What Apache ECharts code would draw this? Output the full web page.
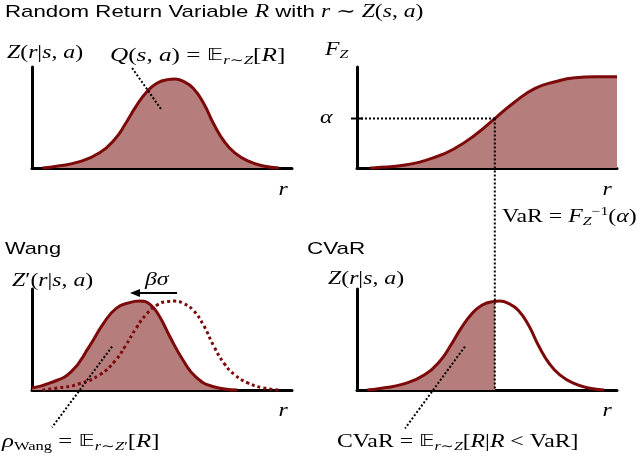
<!DOCTYPE html>
<html>
<head>
<meta charset="utf-8">
<script src="https://cdn.jsdelivr.net/npm/echarts@6/dist/echarts.min.js"></script>
<style>
  html, body { margin: 0; padding: 0; background: #fff; }
  #main { width: 640px; height: 459px; }
</style>
</head>
<body>
<div id="main"></div>
<script>
// return distribution Z(r|s,a) (top-left, dotted in Wang, bottom-right)
var zR = [0.4, 1.0, 1.8, 2.6, 3.2, 3.6, 4.0, 4.4, 4.8, 5.2, 5.5, 5.8, 6.2, 6.6, 7.0, 7.4, 7.8, 8.3, 8.9, 9.5];
var zP = [0, 0.02, 0.06, 0.15, 0.29, 0.44, 0.61, 0.75, 0.84, 0.875, 0.88, 0.86, 0.79, 0.64, 0.43, 0.26, 0.15, 0.07, 0.02, 0];
// Wang-distorted distribution Z'(r|s,a)
var wangR = [0, 0.7, 1.5, 2.2, 2.75, 3.25, 3.75, 4.15, 4.55, 4.9, 5.3, 5.8, 6.3, 6.95, 7.9];
var wangP = [0.02, 0.07, 0.18, 0.43, 0.66, 0.81, 0.865, 0.88, 0.845, 0.73, 0.53, 0.30, 0.13, 0.035, 0];
// cumulative distribution F_Z
var cdfR = [0.5, 0.7, 1.85, 3.0, 3.77, 4.54, 5.31, 6.08, 6.85, 7.62, 8.38, 9.15, 10];
var cdfP = [0, 0.003, 0.03, 0.106, 0.195, 0.327, 0.492, 0.656, 0.789, 0.854, 0.894, 0.904, 0.904];

var alphaLevel = 0.49;
var varR = 5.3;
var shiftFrom = 5.58, shiftTo = 3.77, shiftY = 0.96;

var LINE = '#7d0a0a';
var FILL = '#b67d7d';
var SERIF = '"Liberation Serif", "DejaVu Serif", serif';
var SANS = '"Liberation Sans", Arial, sans-serif';

function pairs(xs, ys) {
  return xs.map(function (x, i) { return [x, ys[i]]; });
}

var grids = [
  { left: 32, top: 67, width: 260, height: 101 },
  { left: 357, top: 67, width: 260, height: 101 },
  { left: 32, top: 289, width: 260, height: 101 },
  { left: 357, top: 289, width: 260, height: 101 }
];

var axisBase = {
  type: 'value',
  axisLine: { show: true, onZero: false, lineStyle: { color: '#000', width: 3 } },
  axisTick: { show: false },
  axisLabel: { show: false },
  splitLine: { show: false }
};

function curve(idx, data, extra) {
  var s = {
    type: 'line',
    xAxisIndex: idx,
    yAxisIndex: idx,
    data: data,
    smooth: 0.5,
    showSymbol: false,
    clip: false,
    silent: true,
    animation: false,
    lineStyle: { color: LINE, width: 3 }
  };
  return Object.assign(s, extra || {});
}

var chart = echarts.init(document.getElementById('main'));
chart.setOption({
  backgroundColor: '#fff',
  animation: false,
  grid: grids,
  xAxis: grids.map(function (g, i) { return Object.assign({ gridIndex: i, min: 0, max: 10 }, axisBase); }),
  yAxis: grids.map(function (g, i) { return Object.assign({ gridIndex: i, min: 0, max: 1 }, axisBase); }),
  visualMap: [{
    type: 'piecewise',
    show: false,
    seriesIndex: 4,
    dimension: 0,
    pieces: [{ gte: -1, lte: varR, color: FILL }],
    outOfRange: { color: 'rgba(0,0,0,0)' }
  }],
  series: [
    curve(0, pairs(zR, zP), { areaStyle: { color: FILL, opacity: 1 } }),
    curve(1, pairs(cdfR, cdfP), { areaStyle: { color: FILL, opacity: 1 } }),
    curve(2, pairs(wangR, wangP), { areaStyle: { color: FILL, opacity: 1 } }),
    curve(2, pairs(zR, zP), { lineStyle: { color: LINE, width: 3, type: [3, 3] }, z: 3 }),
    curve(3, pairs(zR, zP), { areaStyle: { opacity: 1 } })
  ]
});

function px(g, r, p) { return chart.convertToPixel({ gridIndex: g }, [r, p]); }

function dotted(a, b) {
  return {
    type: 'line', silent: true, z: 10,
    shape: { x1: a[0], y1: a[1], x2: b[0], y2: b[1] },
    style: { stroke: '#000', lineWidth: 2, lineDash: [2, 2] }
  };
}

var rich = {
  t: { fontFamily: SANS, fontSize: 17, lineHeight: 22, color: '#000' },
  i: { fontFamily: SERIF, fontStyle: 'italic', fontSize: 18, lineHeight: 22, color: '#000' },
  m: { fontFamily: SERIF, fontSize: 18, lineHeight: 22, color: '#000' },
  bb: { fontFamily: '"DejaVu Sans"', fontSize: 16, lineHeight: 22, color: '#000' },
  si: { fontFamily: SERIF, fontStyle: 'italic', fontSize: 12, lineHeight: 13, verticalAlign: 'bottom', color: '#000' },
  sm: { fontFamily: SERIF, fontSize: 12, lineHeight: 13, verticalAlign: 'bottom', color: '#000' },
  pm: { fontFamily: SERIF, fontSize: 12, lineHeight: 13, verticalAlign: 'top', color: '#000' }
};

// the reference figure is stretched horizontally, so text is too
function label(x, y, text, align, sx) {
  return {
    type: 'text', x: x, y: y, scaleX: sx || 1.32, silent: true, z: 20,
    style: { text: text, rich: rich, align: align || 'left', verticalAlign: 'middle' }
  };
}

var zLabel = '{i|Z}{m|(}{i|r}{m||}{i|s}{m|, }{i|a}{m|)}';

var alphaPt = px(1, 0, alphaLevel);
var graphics = [
  label(5, 12, '{t|Random Return Variable }{i|R}{t| with }{i|r}{m| ∼ }{i|Z}{m|(}{i|s}{m|, }{i|a}{m|)}', 'left', 1.31),
  label(7, 53, zLabel),
  label(110, 56, '{i|Q}{m|(}{i|s}{m|, }{i|a}{m|) = }{bb|𝔼}{si|r}{sm|∼}{si|Z}{m|[}{i|R}{m|]}', 'left', 1.4),
  label(325, 50, '{i|F}{si|Z}'),
  label(320, 118, '{i|α}'),
  label(502, 217, '{m|VaR = }{i|F}{si|Z}{pm|−1}{m|(}{i|α}{m|)}'),
  label(5, 249, '{t|Wang}', 'left', 1.28),
  label(12, 281, '{i|Z}{m|′(}{i|r}{m||}{i|s}{m|, }{i|a}{m|)}'),
  label(145, 280, '{i|βσ}'),
  label(2, 442, '{i|ρ}{sm|Wang}{m| = }{bb|𝔼}{si|r}{sm|∼}{si|Z}{sm|′}{m|[}{i|R}{m|]}', 'left', 1.38),
  label(307, 249, '{t|CVaR}', 'left', 1.32),
  label(328, 279, zLabel),
  label(337, 442, '{m|CVaR = }{bb|𝔼}{si|r}{sm|∼}{si|Z}{m|[}{i|R}{m||}{i|R}{m| < VaR]}'),
  label(283, 190, '{i|r}', 'center'),
  label(607, 190, '{i|r}', 'center'),
  label(283, 411, '{i|r}', 'center'),
  label(607, 411, '{i|r}', 'center'),
  // alpha level and VaR guides
  dotted(alphaPt, px(1, varR, alphaLevel)),
  dotted(px(1, varR, alphaLevel), px(3, varR, 0)),
  {
    type: 'line', silent: true, z: 10,
    shape: { x1: alphaPt[0] - 6, y1: alphaPt[1], x2: alphaPt[0] + 6, y2: alphaPt[1] },
    style: { stroke: '#000', lineWidth: 2 }
  },
  // pointers to the expectations
  dotted(px(0, 3.85, 0.99), px(0, 5.0, 0.57)),
  dotted(px(2, 3.08, 0.43), px(2, 0.77, -0.37)),
  dotted(px(3, 4.15, 0.43), px(3, 1.85, -0.38))
];

// shift arrow beta*sigma
var a0 = px(2, shiftFrom, shiftY), a1 = px(2, shiftTo, shiftY);
graphics.push({
  type: 'line', silent: true, z: 10,
  shape: { x1: a0[0], y1: a0[1], x2: a1[0] + 6, y2: a1[1] },
  style: { stroke: '#000', lineWidth: 2 }
});
graphics.push({
  type: 'polygon', silent: true, z: 10,
  shape: { points: [[a1[0], a1[1]], [a1[0] + 10, a1[1] - 4], [a1[0] + 10, a1[1] + 4]] },
  style: { fill: '#000' }
});

chart.setOption({ graphic: graphics });
</script>
</body>
</html>
